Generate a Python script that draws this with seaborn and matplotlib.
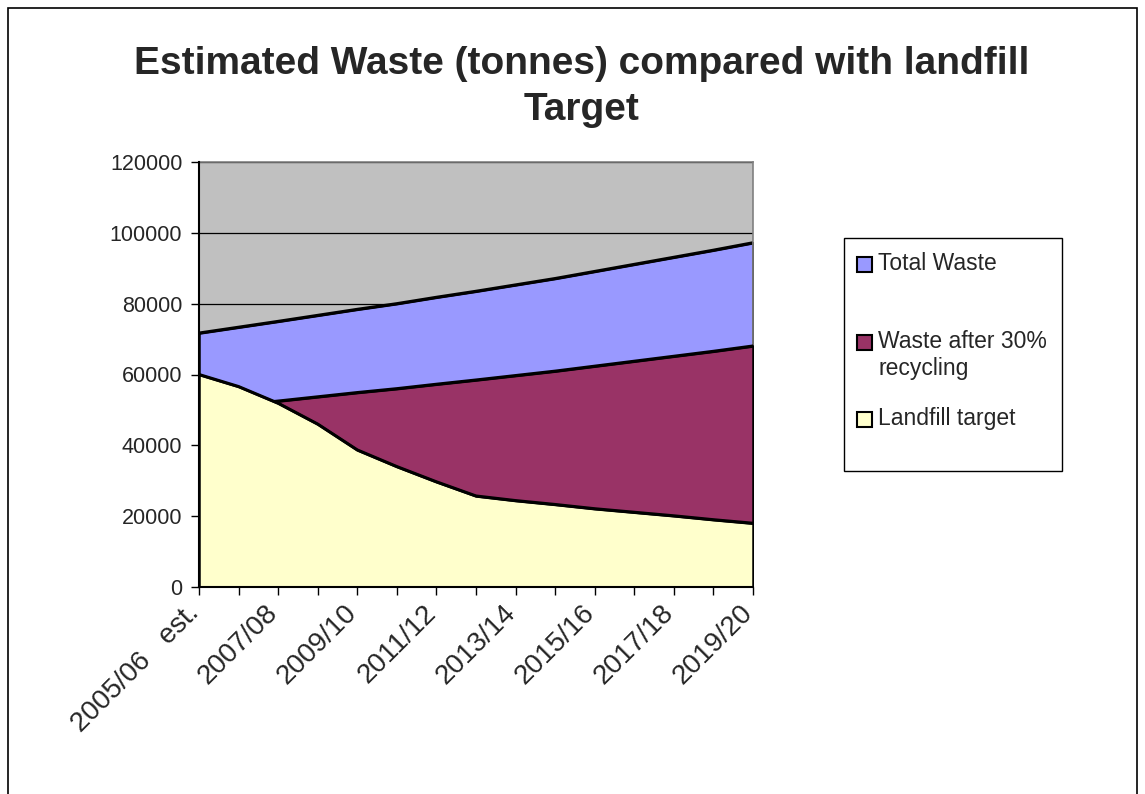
import numpy as np
import pandas as pd
import matplotlib
matplotlib.use("Agg")
import matplotlib.pyplot as plt
import matplotlib.transforms as mtransforms
import seaborn as sns
from matplotlib.patches import Rectangle

# ---- data ----
years = ["2005/06   est.", "2006/07", "2007/08", "2008/09", "2009/10", "2010/11",
         "2011/12", "2012/13", "2013/14", "2014/15", "2015/16", "2016/17",
         "2017/18", "2018/19", "2019/20"]
total_waste = [71700, 73350, 75000, 76700, 78400, 80000, 81800, 83500,
               85300, 87100, 89100, 91100, 93100, 95100, 97200]
after_recycling = [50200, 51350, 52500, 53700, 54900, 56000, 57250, 58450,
                   59700, 60950, 62350, 63750, 65150, 66550, 68050]
landfill_target = [60000, 56600, 51900, 46000, 38700, 34000, 29700, 25700,
                   24400, 23300, 22100, 21100, 20100, 19000, 18000]
series_names = ["Total Waste", "Waste after 30%\nrecycling", "Landfill target"]
series_colors = ["#9999FF", "#993366", "#FFFFCC"]
yticks = [0, 20000, 40000, 60000, 80000, 100000, 120000]
title = "Estimated Waste (tonnes) compared with landfill\nTarget"

sns.set_style("white")
plt.rcParams["font.family"] = ["Liberation Sans", "DejaVu Sans"]

W, H = 1145, 794
fig = plt.figure(figsize=(W / 100, H / 100), dpi=100)

def fx(px):
    return px / W

def fy(py):
    return 1 - py / H

ax = fig.add_axes([fx(199), fy(587), fx(753) - fx(199), fy(162) - fy(587)])
ax.set_facecolor("#C0C0C0")

x = np.arange(len(years))
df = pd.DataFrame({"x": x, "Total Waste": total_waste,
                   "after": after_recycling, "Landfill": landfill_target})

values = [df["Total Waste"], df["after"], df["Landfill"]]
z = 2
for vals, col in zip(values, series_colors):
    ax.fill_between(df["x"], 0, vals, facecolor=col, edgecolor="black",
                    linewidth=1.8, zorder=z)
    sns.lineplot(x=df["x"], y=vals, color="black", linewidth=2.2, ax=ax,
                 zorder=z + 0.5, legend=False)
    z += 1

ax.set_xlim(0, len(years) - 1)
ax.set_ylim(0, 120000)
ax.set_yticks(yticks)
ax.set_yticklabels([str(v) for v in yticks], fontsize=15.5)
ax.set_xticks(x)
ax.set_xticklabels([years[i] if i % 2 == 0 else "" for i in x], fontsize=20,
                   rotation=45, ha="right", va="center", rotation_mode="anchor")
ax.tick_params(axis="both", direction="out", length=6, width=1, color="black",
               left=True, bottom=True)
ax.tick_params(axis="y", pad=6)
ax.tick_params(axis="x", pad=10)
offset = mtransforms.ScaledTranslation(-4 / 100, 0, fig.dpi_scale_trans)
for lab in ax.get_xticklabels():
    lab.set_transform(lab.get_transform() + offset)
ax.set_xlabel("")
ax.set_ylabel("")

ax.yaxis.grid(True, color="black", linewidth=0.9)
ax.xaxis.grid(False)
ax.set_axisbelow(True)

for side in ["left", "bottom"]:
    ax.spines[side].set_color("black")
    ax.spines[side].set_linewidth(1.5)
    ax.spines[side].set_zorder(10)
for side in ["top", "right"]:
    ax.spines[side].set_color("#808080")
    ax.spines[side].set_linewidth(1.2)

# title
fig.text(fx(582), fy(87), title, ha="center", va="center", fontsize=28,
         fontweight="bold", linespacing=1.38)

# legend (manual, Excel style)
fig.add_artist(Rectangle((fx(844), fy(471)), fx(1062) - fx(844), fy(238) - fy(471),
                         transform=fig.transFigure, facecolor="white",
                         edgecolor="black", linewidth=1))
leg_rows = [264.5, 342.5, 419.5]
for name, col, cy in zip(series_names, series_colors, leg_rows):
    fig.add_artist(Rectangle((fx(857), fy(cy + 7.5)), fx(15), 15 / H,
                             transform=fig.transFigure, facecolor=col,
                             edgecolor="black", linewidth=1.5))
    fig.text(fx(878), fy(cy - 12.5), name, ha="left", va="top", fontsize=16.5,
             linespacing=1.2)

# outer chart border
fig.add_artist(Rectangle((fx(8), -0.01), fx(1137) - fx(8), fy(8) + 0.01,
                         transform=fig.transFigure, fill=False,
                         edgecolor="black", linewidth=1.2))

fig.savefig("out.png", dpi=100)
